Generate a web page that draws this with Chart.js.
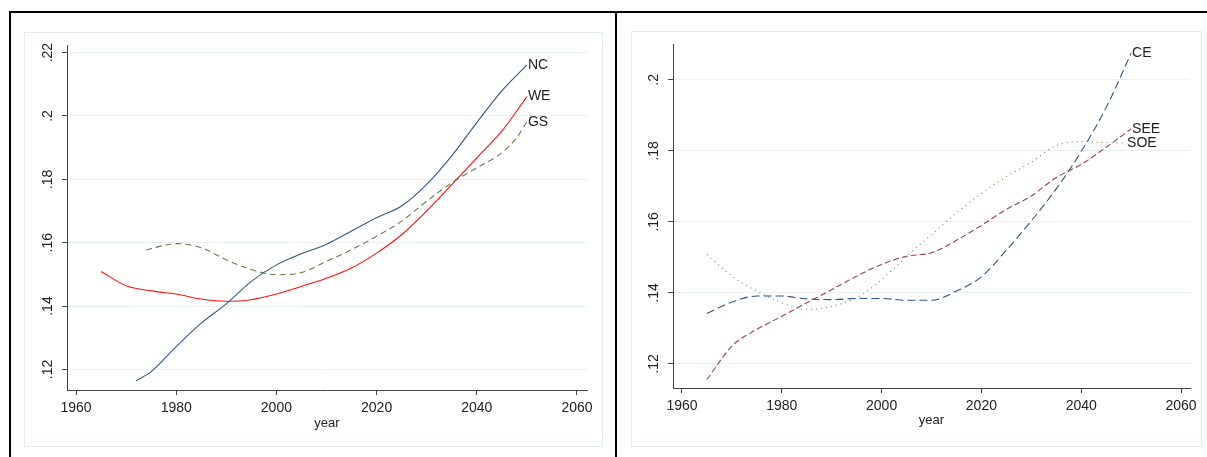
<!DOCTYPE html>
<html>
<head>
<meta charset="utf-8">
<script src="https://cdn.jsdelivr.net/npm/chart.js@4.4.1/dist/chart.umd.min.js"></script>
<style>
  body { margin: 0; width: 1207px; height: 457px; overflow: hidden; background: #fff; position: relative; }
  .rule { position: absolute; background: #000; }
  .box { position: absolute; border: 1px solid #e4ecee; box-sizing: border-box; }
  canvas { position: absolute; }
</style>
</head>
<body>
<div class="rule" style="left:9px;top:11px;width:1198px;height:2px"></div>
<div class="rule" style="left:9px;top:11px;width:2px;height:446px"></div>
<div class="rule" style="left:615px;top:11px;width:2px;height:446px"></div>
<div class="box" style="left:24px;top:32px;width:579px;height:415px"></div>
<div class="box" style="left:631px;top:31px;width:571px;height:416px"></div>
<canvas id="leftChart" width="579" height="415" style="left:24px;top:32px"></canvas>
<canvas id="rightChart" width="571" height="416" style="left:631px;top:31px"></canvas>
<script>
// left panel
var ncYears = [1972, 1975, 1980, 1985, 1990, 1995, 2000, 2005, 2010, 2015, 2020, 2025, 2030, 2035, 2040, 2045, 2050];
var ncValues = [0.1164, 0.1193, 0.1272, 0.1346, 0.1407, 0.1478, 0.153, 0.1565, 0.1595, 0.1637, 0.1679, 0.1716, 0.1784, 0.1874, 0.1979, 0.2079, 0.2161];
var weYears = [1965, 1970, 1975, 1980, 1985, 1990, 1995, 2000, 2005, 2010, 2015, 2020, 2025, 2030, 2035, 2040, 2045, 2050];
var weValues = [0.1509, 0.1464, 0.1448, 0.1438, 0.1422, 0.1415, 0.142, 0.1438, 0.1462, 0.1488, 0.152, 0.1567, 0.1625, 0.17, 0.1783, 0.1868, 0.1952, 0.2061];
var gsYears = [1974, 1980, 1985, 1990, 1995, 2000, 2005, 2010, 2015, 2020, 2025, 2030, 2035, 2040, 2045, 2048, 2050];
var gsValues = [0.1577, 0.1597, 0.1584, 0.1546, 0.1515, 0.1499, 0.1506, 0.1541, 0.1578, 0.162, 0.1668, 0.1731, 0.1789, 0.1836, 0.1884, 0.1932, 0.1982];

// right panel
var rightYears = [1965, 1970, 1975, 1980, 1985, 1990, 1995, 2000, 2005, 2010, 2015, 2020, 2025, 2030, 2035, 2040, 2045, 2050];
var ceValues = [0.1342, 0.1374, 0.1391, 0.1391, 0.1383, 0.1381, 0.1384, 0.1384, 0.1379, 0.1379, 0.1405, 0.1445, 0.152, 0.1603, 0.1693, 0.1798, 0.1922, 0.2075];
var seeValues = [0.1156, 0.125, 0.1297, 0.1334, 0.1372, 0.1409, 0.1447, 0.148, 0.1503, 0.1513, 0.1548, 0.159, 0.1635, 0.1673, 0.1725, 0.1762, 0.181, 0.1862];
var soeYears = [1965, 1970, 1975, 1980, 1985, 1990, 1995, 2000, 2005, 2010, 2015, 2020, 2025, 2030, 2035, 2040, 2045, 2049];
var soeValues = [0.1508, 0.1447, 0.1405, 0.1372, 0.1353, 0.1362, 0.1386, 0.1437, 0.1503, 0.1564, 0.1625, 0.168, 0.1728, 0.1768, 0.1815, 0.1826, 0.1823, 0.1822];

var xTicks = [1960, 1980, 2000, 2020, 2040, 2060];
var yTicksLeft = [0.12, 0.14, 0.16, 0.18, 0.2, 0.22];
var yTicksRight = [0.12, 0.14, 0.16, 0.18, 0.2];

var FONT = '"Liberation Sans", Arial, sans-serif';

function pts(years, values) {
  return years.map(function (y, i) { return { x: y, y: values[i] }; });
}

function fmt(v) {
  return v.toFixed(2).replace(/0+$/, "").replace(/^0/, "");
}

// rotated y labels + series names at line ends
var stataText = {
  id: "stataText",
  afterDraw: function (chart) {
    var ctx = chart.ctx;
    var ys = chart.scales.y;
    var area = chart.chartArea;
    ctx.save();
    ctx.fillStyle = "#222";
    ctx.font = "14px " + FONT;
    ctx.textAlign = "center";
    ctx.textBaseline = "middle";
    ys.ticks.forEach(function (t) {
      ctx.save();
      ctx.translate(area.left - 19, ys.getPixelForValue(t.value));
      ctx.rotate(-Math.PI / 2);
      ctx.fillText(fmt(t.value), 0, 0);
      ctx.restore();
    });
    ctx.font = "14px " + FONT;
    ctx.textAlign = "left";
    chart.data.datasets.forEach(function (ds, i) {
      var els = chart.getDatasetMeta(i).data;
      var p = els[els.length - 1];
      ctx.fillText(ds.label, p.x + 1, p.y);
    });
    ctx.restore();
  },
};

function makeChart(id, datasets, opts) {
  var ctx = document.getElementById(id).getContext("2d");
  return new Chart(ctx, {
    type: "line",
    data: { datasets: datasets },
    plugins: [stataText],
    options: {
      responsive: false,
      animation: false,
      devicePixelRatio: 1,
      layout: { padding: { top: 13, right: opts.padRight, left: 0, bottom: 0 } },
      elements: {
        point: { radius: 0 },
        line: { borderWidth: 1.1, tension: 0.4, cubicInterpolationMode: "monotone" },
      },
      plugins: { legend: { display: false }, tooltip: { enabled: false } },
      scales: {
        x: {
          type: "linear",
          min: opts.xMin,
          max: opts.xMax,
          afterBuildTicks: function (s) { s.ticks = xTicks.map(function (v) { return { value: v }; }); },
          afterFit: function (s) { s.height = opts.xHeight; s.paddingLeft = 0; s.paddingRight = 0; },
          border: { color: "#444", width: 1 },
          grid: { drawOnChartArea: false, drawTicks: true, tickLength: 5, tickColor: "#444" },
          ticks: {
            color: "#222",
            font: { family: FONT, size: 14 },
            padding: 5,
            maxRotation: 0,
            autoSkip: false,
            callback: function (v) { return String(v); },
          },
          title: { display: true, text: "year", color: "#222", font: { family: FONT, size: 13 }, padding: { top: 0, bottom: opts.titleBottom } },
        },
        y: {
          type: "linear",
          min: opts.yMin,
          max: opts.yMax,
          afterBuildTicks: function (s) { s.ticks = opts.yTicks.map(function (v) { return { value: v }; }); },
          afterFit: function (s) { s.width = opts.yWidth; s.paddingTop = 0; s.paddingBottom = 0; },
          border: { color: "#444", width: 1 },
          grid: { color: "#e8f0f2", lineWidth: 1, drawTicks: true, tickLength: 5, tickColor: "#444" },
          ticks: { display: false },
        },
      },
    },
  });
}

makeChart("leftChart", [
  { label: "NC", data: pts(ncYears, ncValues), borderColor: "#2f5882" },
  { label: "WE", data: pts(weYears, weValues), borderColor: "#ff1010" },
  { label: "GS", data: pts(gsYears, gsValues), borderColor: "#5f7f45", borderDash: [6, 4] },
], { xMin: 1958.2, xMax: 2062, yMin: 0.1135, yMax: 0.2224, yTicks: yTicksLeft, padRight: 16, yWidth: 43, xHeight: 57, titleBottom: 16 });

makeChart("rightChart", [
  { label: "CE", data: pts(rightYears, ceValues), borderColor: "#2b5687", borderDash: [8, 4] },
  { label: "SEE", data: pts(rightYears, seeValues), borderColor: "#9c4248", borderDash: [6, 3] },
  { label: "SOE", data: pts(soeYears, soeValues), borderColor: "#6b8a4a", borderDash: [1, 4] },
], { xMin: 1958.2, xMax: 2061.8, yMin: 0.1132, yMax: 0.2101, yTicks: yTicksRight, padRight: 12, yWidth: 42, xHeight: 59, titleBottom: 19 });
</script>
</body>
</html>
